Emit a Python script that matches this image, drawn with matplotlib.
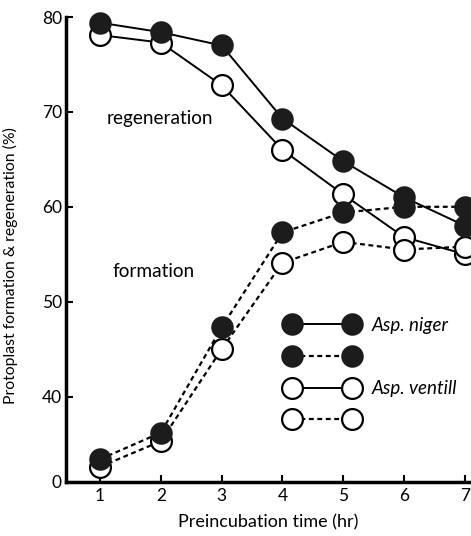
import numpy as np
import matplotlib
matplotlib.use('Agg')
import matplotlib.pyplot as plt

plt.rcParams['font.family'] = ['Lato', 'DejaVu Sans']

# preincubation time (hr)
hours = [1, 2, 3, 4, 5, 6, 7]
# Asp. niger
niger_regen = [79.4, 78.4, 77.0, 69.3, 64.8, 61.0, 58.0]
niger_form = [33.4, 36.2, 47.3, 57.3, 59.4, 60.0, 60.0]
# Asp. ventill
ventill_regen = [78.1, 77.3, 72.8, 66.0, 61.3, 56.8, 55.0]
ventill_form = [32.6, 35.3, 45.0, 54.1, 56.3, 55.5, 55.8]

ytick_vals = [31, 40, 50, 60, 70, 80]
ytick_labels = ['0', '40', '50', '60', '70', '80']

fig = plt.figure(figsize=(4.71, 5.36), dpi=100)
ax = fig.add_axes([66 / 471, 54 / 536, 405 / 471, 465 / 536])

dash = (0, (2.2, 1.6))
ms = 15
dark = '#1c1c1c'

l_vr, = ax.plot(hours, ventill_regen, '-', color='black', lw=1.4, marker='o', ms=ms,
                mfc='white', mec='black', mew=1.6, clip_on=False)
l_vf, = ax.plot(hours, ventill_form, linestyle=dash, color='black', lw=1.6, marker='o', ms=ms,
                mfc='white', mec='black', mew=1.6, clip_on=False)
l_nr, = ax.plot(hours, niger_regen, '-', color='black', lw=1.4, marker='o', ms=ms,
                mfc=dark, mec=dark, mew=1.2, clip_on=False)
l_nf, = ax.plot(hours, niger_form, linestyle=dash, color='black', lw=1.6, marker='o', ms=ms,
                mfc=dark, mec=dark, mew=1.2, clip_on=False)

ax.set_xlim(0.44, 7.1)
ax.set_ylim(31, 80)
ax.set_xticks(hours)
ax.set_yticks(ytick_vals)
ax.set_yticklabels(ytick_labels)
ax.tick_params(direction='in', length=5, width=1.5, labelsize=12.5, pad=4)
ax.tick_params(axis='y', pad=3)

for s in ['top', 'right']:
    ax.spines[s].set_visible(False)
ax.spines['left'].set_linewidth(2.5)
ax.spines['bottom'].set_linewidth(2.5)

ax.set_xlabel('Preincubation time (hr)', fontsize=13, labelpad=8)
ax.set_ylabel('Protoplast formation & regeneration (%)', fontsize=11.3)
ax.yaxis.set_label_coords(-0.118, 0.465)

ax.text(0.10, 69.3, 'regeneration', fontsize=13.7, transform=ax.get_yaxis_transform(),
        va='center')
ax.text(0.115, 53.2, 'formation', fontsize=13.7, transform=ax.get_yaxis_transform(),
        va='center')

leg = ax.legend([l_nr, l_nf, l_vr, l_vf], ['Asp. niger', '', 'Asp. ventill', ''],
                loc='upper left', bbox_to_anchor=(286.4 / 471, (536 - 317) / 536),
                bbox_transform=fig.transFigure, frameon=False, numpoints=2,
                handlelength=3.8, handletextpad=0.72, borderpad=0, borderaxespad=0,
                labelspacing=0.78, prop={'style': 'italic', 'size': 13.5})

fig.savefig('out.png', dpi=100)
